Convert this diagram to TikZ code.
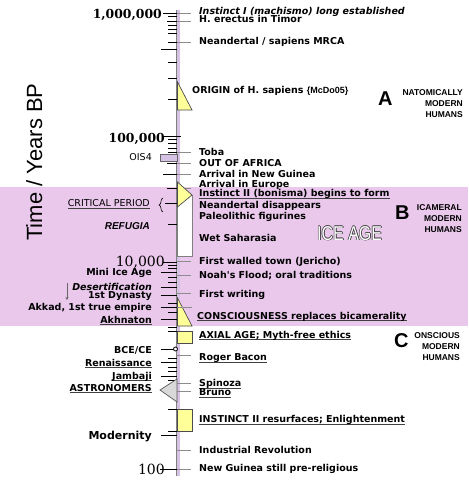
\documentclass[tikz,border=0pt]{standalone}
\usepackage{fontspec}
\usepackage{graphicx}
\usetikzlibrary{decorations.pathreplacing, arrows.meta}
\newfontfamily\dvs{DejaVu Sans}
\newfontfamily\dvserif{DejaVu Serif}
\newfontfamily\lsans{Liberation Sans}
\definecolor{icepink}{RGB}{234,200,236}
\definecolor{paley}{RGB}{255,255,153}
\definecolor{axlav}{RGB}{214,194,228}
\newsavebox\ulbox
\newcommand\ulx[1]{\sbox\ulbox{#1}\rlap{\textcolor{black!75}{\rule[-2.2pt]{\wd\ulbox}{0.75pt}}}\usebox\ulbox}
\begin{document}
\begin{tikzpicture}[x=1pt,y=-1pt,
  rl/.style={anchor=base west, inner sep=0pt, font=\dvs\bfseries\fontsize{9.5}{11}\selectfont},
  ll/.style={anchor=base east, inner sep=0pt, font=\dvs\bfseries\fontsize{9.5}{11}\selectfont},
  num/.style={anchor=base east, inner sep=0pt},
  tk/.style={line width=0.9pt, black},
  ev/.style={line width=0.9pt, draw=black!45},
  ybox/.style={fill=paley, draw=black!70, line width=0.7pt},
  big/.style={anchor=base west, inner sep=0pt, font=\lsans\bfseries\fontsize{20}{21}\selectfont},
  capl/.style={anchor=base east, inner sep=0pt, font=\lsans\bfseries\fontsize{8.5}{9}\selectfont},
  icetxt/.style={anchor=base west, inner sep=0pt, font=\lsans\fontsize{20}{21}\selectfont},
]
\useasboundingbox (0,0) rectangle (468,484);
\fill[white] (0,0) rectangle (468,484);
\fill[icepink] (0,186.5) rectangle (468,326);

% axis
\fill[axlav] (177,10) rectangle (179.6,476);
\draw[line width=1.3pt, black!50] (176.6,10) -- (176.6,476);

% minor ticks
\foreach \y in {16,25,29,33,62,78,99,139,143,148,158,224,265,268,277,282,303,312,327,331,358,367,371,380,384,409,431}
  \draw[tk] (168,\y) -- (176.6,\y);
% labelled left ticks
\foreach \y in {49,272,287,295,319,349,362,376,435}
  \draw[tk] (161,\y) -- (176.6,\y);
% crossing ticks, left part
\draw[tk] (163,13) -- (180,13);
\draw[tk] (167,21) -- (177,21);
\draw[tk] (168,42) -- (177,42);
\draw[tk] (163,136) -- (181,136);
\draw[tk] (168,152) -- (177,152);
\draw[tk] (167,163) -- (177,163);
\draw[tk] (163,174) -- (177,174);
\draw[tk] (167,188) -- (177,188);
\draw[tk] (165,203) -- (181,203);
\draw[tk] (163,262) -- (177,262);
\draw[tk] (160,469) -- (177,469);
% event lines to the right
\foreach \y in {13,21,42,152,163,174,188,261,275,293,355,383,391,450,469}
  \draw[ev] (177,\y) -- (191,\y);

% shapes on the axis
\filldraw[ybox] (177.5,82) -- (192,110) -- (177.5,110) -- cycle;
\filldraw[fill=white, draw=black!50, line width=0.6pt] (177.5,195) rectangle (192,256);
\filldraw[ybox] (177.5,182) -- (192,195) -- (177.5,207) -- cycle;
\filldraw[ybox] (177.5,298) -- (192,326) -- (177.5,326) -- cycle;
\filldraw[ybox] (177.5,331) rectangle (192,343);
\filldraw[fill=black!15, draw=black!65, line width=0.7pt] (177,379) -- (160,390) -- (177,402) -- cycle;
\filldraw[ybox] (177.5,409) rectangle (192,431);
\filldraw[fill=axlav, draw=black!60, line width=0.6pt] (160,154) rectangle (177,161.5);
\draw[tk] (161,307) -- (177,307);
\draw[ev] (177,307) -- (192,307);
\filldraw[fill=white, draw=black, line width=0.8pt] (175.5,349) circle (2);

% brace and arrow
\draw[decorate, decoration={brace, amplitude=4pt}, line width=0.6pt] (163,212) -- (163,198);
\coordinate (dtop) at (67,283);
\coordinate (dbot) at (67,300);
\draw[-{Stealth[length=3pt,width=3pt]}, line width=0.7pt, black!60] (dtop) -- (dbot);

% scale numbers
\node[num, font=\dvserif\bfseries\fontsize{12.4}{13}\selectfont] (m1) at (162,19) {1,000,000};
\node[num, font=\dvserif\bfseries\fontsize{12.4}{13}\selectfont] (k100) at (165,142.5) {100,000};
\node[num, font=\dvserif\fontsize{14}{15}\selectfont] (k10) at (165,266) {10,000};
\node[num, font=\dvserif\fontsize{14}{15}\selectfont] (h100) at (165,474) {100};

% right labels
\node[rl] (instI) at (199,15) {\itshape Instinct I (machismo) long established};
\node[rl] (erect) at (199,22.5) {H. erectus in Timor};
\node[rl] (mrca) at (199,45) {Neandertal / sapiens MRCA};
\node[rl] (orig) at (192,93.5) {ORIGIN of H. sapiens {\lsans\bfseries\fontsize{9}{10}\selectfont\{McDo05\}}};
\node[rl] (toba) at (199,155) {Toba};
\node[rl] (ooa) at (199,166.5) {OUT OF AFRICA};
\node[rl] (ng) at (199,177.5) {Arrival in New Guinea};
\node[rl] (eur) at (199,187) {Arrival in Europe};
\node[rl] (inst2) at (199,196.5) {\ulx{Instinct II (bonisma) begins to form}};
\node[rl] (nd) at (199,208) {Neandertal disappears};
\node[rl] (pal) at (199,219) {Paleolithic figurines};
\node[rl] (wet) at (199,241.5) {Wet Saharasia};
\node[rl] (jer) at (199,264.5) {First walled town (Jericho)};
\node[rl] (noah) at (199,278) {Noah's Flood; oral traditions};
\node[rl] (fw) at (199,297) {First writing};
\node[rl] (cons) at (197,319) {\ulx{CONSCIOUSNESS replaces bicamerality}};
\node[rl] (axial) at (199,338) {\ulx{AXIAL AGE; Myth-free ethics}};
\node[rl] (bacon) at (199,360.5) {\ulx{Roger Bacon}};
\node[rl] (spin) at (199,386.5) {\ulx{Spinoza}};
\node[rl] (bruno) at (199,395.5) {\ulx{Bruno}};
\node[rl] (enl) at (199,422.5) {\ulx{INSTINCT II resurfaces; Enlightenment}};
\node[rl] (ind) at (199,453.5) {Industrial Revolution};
\node[rl] (ngr) at (199,471) {New Guinea still pre-religious};

% left labels
\node[ll] (ois) at (152,160) {\mdseries OIS4};
\node[ll] (crit) at (150,206.5) {\mdseries\ulx{CRITICAL PERIOD}};
\node[ll, font=\lsans\bfseries\itshape\fontsize{10}{11}\selectfont] (ref) at (150,229.5) {REFUGIA};
\node[ll] (mini) at (152,275.5) {Mini Ice Age};
\node[ll] (des) at (152,290) {\itshape Desertification};
\node[ll] (dyn) at (152,298.5) {1st Dynasty};
\node[ll] (akk) at (152,310) {Akkad, 1st true empire};
\node[ll] (akh) at (152,323) {\ulx{Akhnaton}};
\node[ll] (bce) at (152,353) {BCE/CE};
\node[ll] (ren) at (152,366) {\ulx{Renaissance}};
\node[ll] (jam) at (152,379) {\ulx{Jambaji}};
\node[ll] (ast) at (152,391) {\ulx{ASTRONOMERS}};
\node[ll, font=\dvs\bfseries\fontsize{11}{12}\selectfont] (mod) at (152,439) {Modernity};

% era labels
\node[big] (bA) at (378,106) {A};
\node[capl] (a1) at (463,95.5) {NATOMICALLY};
\node[capl] (a2) at (463,106.5) {MODERN};
\node[capl] (a3) at (463,117.5) {HUMANS};
\node[big] (bB) at (395,219) {B};
\node[capl] (b1) at (462,210.5) {ICAMERAL};
\node[capl] (b2) at (462,221.5) {MODERN};
\node[capl] (b3) at (462,232.5) {HUMANS};
\node[big] (bC) at (394,347.5) {C};
\node[capl] (c1) at (460,338) {ONSCIOUS};
\node[capl] (c2) at (460,349) {MODERN};
\node[capl] (c3) at (460,360) {HUMANS};

% ICE AGE
\foreach \dx/\dy in {-0.7/0,0.7/0,0/-0.7,0/0.7,0.7/0.7}
  \node[icetxt, text=black!75] at (317+\dx,240+\dy) {\scalebox{0.8}[1]{ICE AGE}};
\node[icetxt, text=white] (ice) at (317,240) {\scalebox{0.8}[1]{ICE AGE}};

% axis title
\node[rotate=90, anchor=base west, inner sep=0pt, font=\lsans\fontsize{22}{23}\selectfont] (ttl) at (42,241) {Time / Years BP};
\end{tikzpicture}
\end{document}
